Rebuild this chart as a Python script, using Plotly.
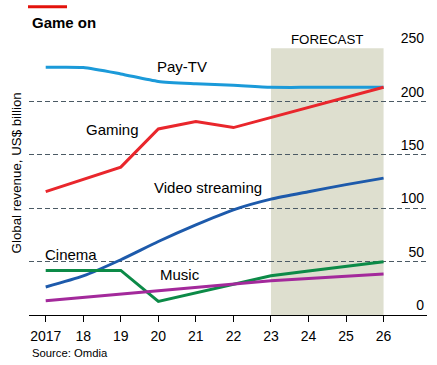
import plotly.graph_objects as go

years = [2017, 2018, 2019, 2020, 2021, 2022, 2023, 2024, 2025, 2026]
year_labels = ["2017", "18", "19", "20", "21", "22", "23", "24", "25", "26"]

pay_tv = [232.2, 232.0, 226.0, 219.0, 216.8, 215.3, 213.5, 213.4, 213.4, 213.4]
gaming = [115.7, 127.0, 138.6, 174.4, 181.3, 175.7, 185.1, 194.6, 204.0, 213.5]
video_streaming = [26.2, 36.6, 51.8, 68.9, 84.5, 98.6, 108.6, 115.6, 122.2, 128.3]
cinema = [41.8, 41.8, 41.8, 12.7, 20.7, 28.7, 36.8, 41.2, 45.6, 50.0]
music = [13.4, 16.5, 19.6, 22.8, 25.8, 29.0, 32.1, 34.2, 36.3, 38.4]

y_ticks = [0, 50, 100, 150, 200, 250]
forecast_start, forecast_end = 2023, 2026

FONT = "Liberation Sans, Arial, sans-serif"

series = [
    ("Pay-TV", pay_tv, "#1b9ad9", "spline"),
    ("Gaming", gaming, "#e9262c", "linear"),
    ("Video streaming", video_streaming, "#1d5aab", "spline"),
    ("Cinema", cinema, "#0c8a47", "linear"),
    ("Music", music, "#a3299b", "linear"),
]

label_pos = {
    "Pay-TV": (2020.63, 232.5),
    "Gaming": (2018.79, 173.5),
    "Video streaming": (2021.33, 119.7),
    "Cinema": (2017.67, 56.5),
    "Music": (2020.57, 37.7),
}

fig = go.Figure()
for name, vals, color, shape in series:
    fig.add_trace(go.Scatter(
        x=years, y=vals, mode="lines", name=name,
        line=dict(color=color, width=3, shape=shape, smoothing=0.6),
        hoverinfo="skip", showlegend=False,
    ))

fig.add_shape(type="rect", xref="x", yref="y",
              x0=forecast_start, x1=forecast_end, y0=y_ticks[0], y1=y_ticks[-1],
              fillcolor="#dedfcf", line=dict(width=0), layer="below")

annotations = []
for name, (lx, ly) in label_pos.items():
    annotations.append(dict(x=lx, y=ly, xref="x", yref="y", text=name,
                            showarrow=False, font=dict(family=FONT, size=15, color="#000"),
                            xanchor="center", yanchor="middle"))
annotations.append(dict(x=0.7475, y=1.0326, xref="paper", yref="paper",
                        text="FORECAST", showarrow=False,
                        font=dict(family=FONT, size=13.3, color="#000"),
                        xanchor="center", yanchor="middle"))
annotations.append(dict(x=0.0025, y=1.096, xref="paper", yref="paper", text="<b>Game on</b>",
                        showarrow=False, font=dict(family=FONT, size=15, color="#000"),
                        xanchor="left", yanchor="middle"))
annotations.append(dict(x=0.0025, y=-0.142, xref="paper", yref="paper", text="Source: Omdia",
                        showarrow=False, font=dict(family=FONT, size=11.3, color="#000"),
                        xanchor="left", yanchor="middle"))
annotations.append(dict(x=-0.0327, y=0.534, xref="paper", yref="paper",
                        text="Global revenue, US$ billion", textangle=-90,
                        showarrow=False, font=dict(family=FONT, size=13.3, color="#000"),
                        xanchor="center", yanchor="middle"))

fig.add_shape(type="rect", xref="paper", yref="paper",
              x0=-0.0025, x1=0.0955, y0=1.149, y1=1.160,
              fillcolor="#e3120b", line=dict(width=0))

fig.update_layout(
    width=437, height=365,
    margin=dict(l=29, r=10, t=48, b=50),
    paper_bgcolor="white", plot_bgcolor="white",
    font=dict(family=FONT, size=14, color="#000"),
    annotations=annotations,
    xaxis=dict(
        range=[2016.555, 2027.157], tickvals=years, ticktext=year_labels,
        showgrid=False, zeroline=False, showline=True, linecolor="#000", linewidth=1,
        ticks="outside", ticklen=6, tickcolor="#000", tickwidth=1,
        ticklabelstandoff=2,
        tickfont=dict(family=FONT, size=14, color="#000"),
    ),
    yaxis=dict(
        range=[0, 250.3], tickvals=y_ticks, side="right",
        ticklabelposition="inside top", ticklabeloverflow="allow",
        showgrid=True, gridcolor="#4b5a64", gridwidth=1, griddash="5px,3px",
        zeroline=False, showline=False, ticks="",
        tickfont=dict(family=FONT, size=14, color="#000"),
    ),
)

fig.write_html("out.html", config={"displayModeBar": False},
               post_script="document.body.style.margin='0';document.body.style.overflow='hidden';")
